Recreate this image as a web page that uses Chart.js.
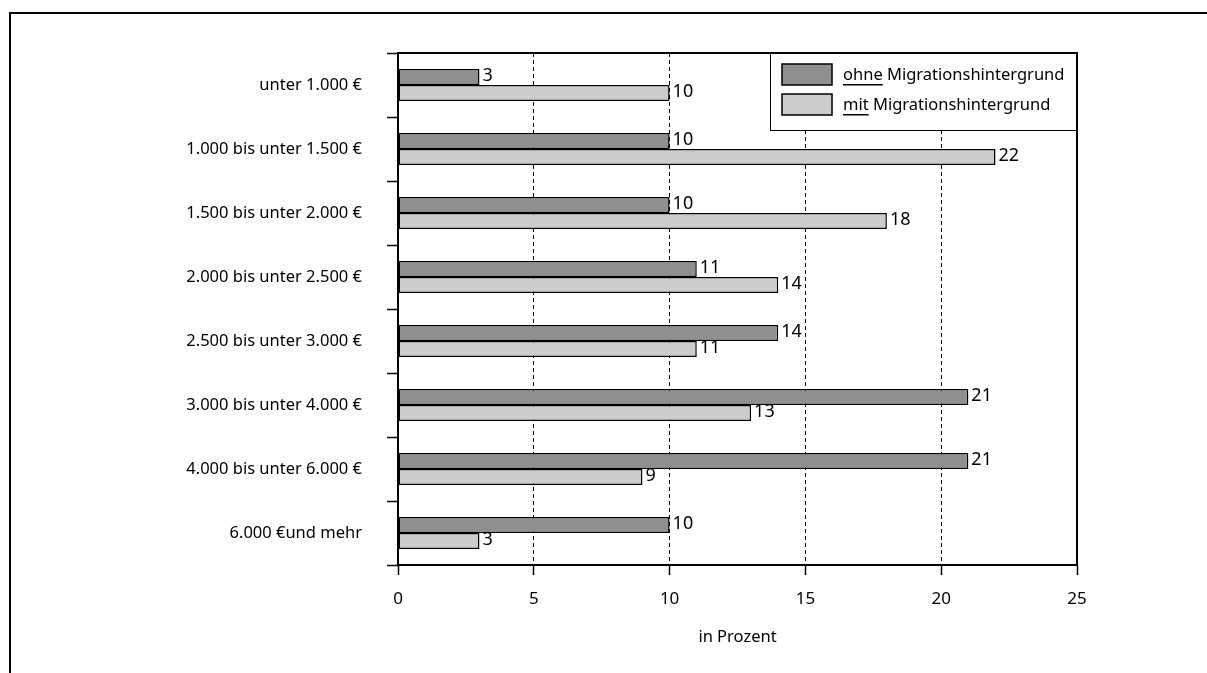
<!DOCTYPE html>
<html>
<head>
<meta charset="utf-8">
<script src="https://cdn.jsdelivr.net/npm/chart.js@4.4.0/dist/chart.umd.min.js"></script>
<style>
  html, body { margin: 0; padding: 0; background: #fff; }
  #wrap { width: 1207px; height: 673px; position: relative; }
</style>
</head>
<body>
<div id="wrap"><canvas id="chart"></canvas></div>
<script>
const categories = [
  'unter 1.000 €',
  '1.000 bis unter 1.500 €',
  '1.500 bis unter 2.000 €',
  '2.000 bis unter 2.500 €',
  '2.500 bis unter 3.000 €',
  '3.000 bis unter 4.000 €',
  '4.000 bis unter 6.000 €',
  '6.000 €und mehr',
];
const ohneMigration = [3, 10, 10, 11, 14, 21, 21, 10];
const mitMigration = [10, 22, 18, 14, 11, 13, 9, 3];
const seriesNames = [['ohne', ' Migrationshintergrund'], ['mit', ' Migrationshintergrund']];
const xTicks = [0, 5, 10, 15, 20, 25];

const darkGray = '#8f8f8f';
const lightGray = '#cccccc';

Chart.defaults.font.family = "'Noto Sans', sans-serif";
Chart.defaults.color = '#000';

// frame, plot box, value labels and the boxed legend
const decorations = {
  id: 'decorations',
  afterDatasetsDraw(chart) {
    const { ctx, chartArea: a } = chart;
    ctx.save();

    // outer frame (top + left only)
    ctx.strokeStyle = '#000';
    ctx.lineWidth = 2;
    ctx.beginPath();
    ctx.moveTo(10, 673);
    ctx.lineTo(10, 13);
    ctx.lineTo(1207, 13);
    ctx.stroke();

    // plot box
    ctx.lineWidth = 2;
    ctx.strokeRect(a.left, a.top, a.right - a.left, a.bottom - a.top);

    // value labels
    ctx.fillStyle = '#000';
    ctx.font = "18px 'Noto Sans'";
    ctx.textBaseline = 'middle';
    ctx.textAlign = 'left';
    chart.data.datasets.forEach((ds, i) => {
      chart.getDatasetMeta(i).data.forEach((bar, j) => {
        ctx.fillText(ds.data[j], bar.x + 3, bar.y - 1);
      });
    });

    // legend
    const lw = 307, lh = 78;
    const lx = a.right - lw, ly = a.top;
    ctx.fillStyle = '#fff';
    ctx.fillRect(lx, ly, lw, lh);
    ctx.lineWidth = 1;
    ctx.strokeStyle = '#000';
    ctx.strokeRect(lx + 0.5, ly + 0.5, lw - 1, lh - 1);
    ctx.font = "16.5px 'Noto Sans'";
    const colors = [darkGray, lightGray];
    seriesNames.forEach((parts, i) => {
      const sy = ly + 11 + i * 30;
      ctx.fillStyle = colors[i];
      ctx.fillRect(lx + 12, sy, 50, 21);
      ctx.lineWidth = 1.5;
      ctx.strokeRect(lx + 12, sy, 50, 21);
      const tx = lx + 73, ty = sy + 11;
      ctx.fillStyle = '#000';
      ctx.fillText(parts[0], tx, ty);
      const w0 = ctx.measureText(parts[0]).width;
      ctx.fillRect(tx, Math.round(ty + 9), w0, 1.5);
      ctx.fillText(parts[1], tx + w0, ty);
    });
    ctx.restore();
  },
};

new Chart(document.getElementById('chart'), {
  type: 'bar',
  data: {
    labels: categories,
    datasets: [
      {
        label: 'ohne Migrationshintergrund',
        data: ohneMigration,
        backgroundColor: darkGray,
        borderColor: '#000',
        borderWidth: 1.5,
        borderSkipped: false,
      },
      {
        label: 'mit Migrationshintergrund',
        data: mitMigration,
        backgroundColor: lightGray,
        borderColor: '#000',
        borderWidth: 1.5,
        borderSkipped: false,
      },
    ],
  },
  options: {
    indexAxis: 'y',
    responsive: true,
    maintainAspectRatio: false,
    animation: false,
    categoryPercentage: 0.5,
    barPercentage: 1,
    layout: { padding: { top: 53, right: 130, left: 0, bottom: 22 } },
    plugins: {
      legend: { display: false },
      tooltip: { enabled: false },
    },
    scales: {
      x: {
        min: 0,
        max: 25,
        afterBuildTicks: (scale) => { scale.ticks = xTicks.map((v) => ({ value: v })); },
        afterFit: (scale) => { scale.height = 86; },
        ticks: { font: { size: 17 }, padding: 14, color: '#000' },
        grid: {
          color: (c) => (c.tick && (c.tick.value === 0 || c.tick.value === 25) ? 'rgba(0,0,0,0)' : '#000'),
          lineWidth: 1,
          tickColor: '#000',
          tickWidth: 1.5,
          tickLength: 10,
        },
        border: { display: false, dash: [4, 3] },
        title: {
          display: true,
          text: 'in Prozent',
          font: { size: 16.5 },
          color: '#000',
          padding: { top: 12 },
        },
      },
      y: {
        afterFit: (scale) => { scale.width = 398; },
        ticks: { font: { size: 16.5 }, padding: 25, color: '#000' },
        grid: {
          drawOnChartArea: false,
          tickColor: '#000',
          tickWidth: 1.5,
          tickLength: 11,
        },
        border: { display: false },
      },
    },
  },
  plugins: [decorations],
});
</script>
</body>
</html>
